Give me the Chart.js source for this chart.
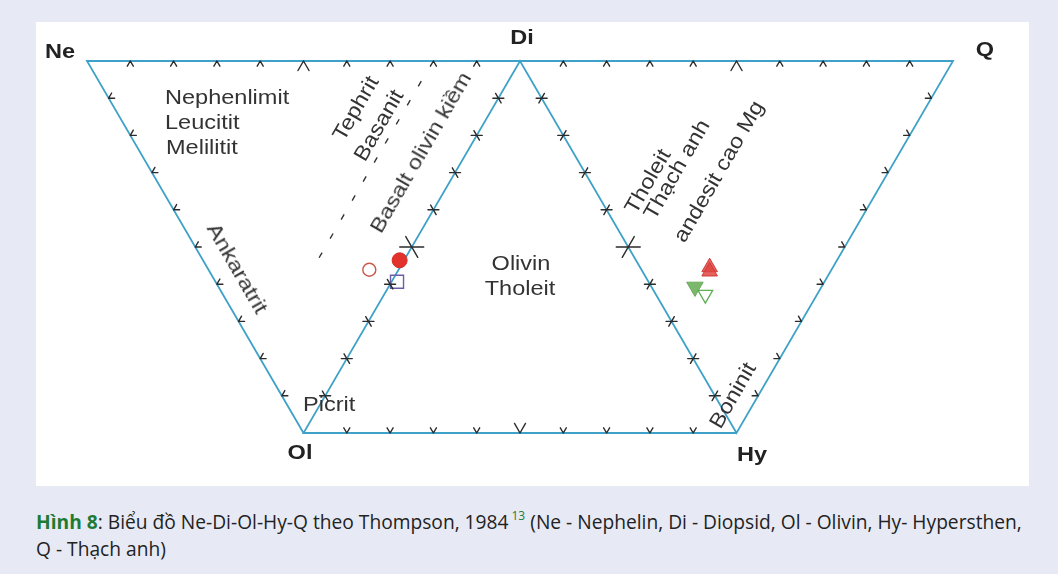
<!DOCTYPE html>
<html>
<head>
<meta charset="utf-8">
<script src="https://cdn.jsdelivr.net/npm/chart.js@4/dist/chart.umd.min.js"></script>
<style>
html,body{margin:0;padding:0;}
body{width:1058px;height:574px;background:#e7eaf5;position:relative;overflow:hidden;font-family:"Liberation Sans",Arial,sans-serif;}
#panel{position:absolute;left:36px;top:22px;width:993px;height:464px;background:#ffffff;}
#chart{position:absolute;left:0;top:0;}
.lbl{position:absolute;white-space:nowrap;line-height:1;color:#333;font-size:21px;}
.v{font-weight:bold;color:#222;}
#cap{position:absolute;left:36px;top:508px;font-family:"Open Sans","Noto Sans",sans-serif;font-size:19.2px;line-height:27px;color:#222;white-space:nowrap;}
#cap b{color:#1e7b34;}
#cap sup{color:#1e7b34;font-size:12px;line-height:0;position:relative;top:-2px;margin-left:3px;}
</style>
</head>
<body>
<div id="panel"><canvas id="chart" width="993" height="464"></canvas></div>
<div id="labels"></div>
<div id="cap"><b>Hình 8</b>: Biểu đồ Ne-Di-Ol-Hy-Q theo Thompson, 1984<sup>13</sup> (Ne - Nephelin, Di - Diopsid, Ol - Olivin, Hy- Hypersthen,<br>Q - Thạch anh)</div>
<script>
// ---- diagram data (diagram units: Ne=0, Di=50, Q=100 along x; base=0, top=43.3) ----
const vertexNames = ['Ne', 'Di', 'Q', 'Ol', 'Hy'];
const vertexX = [0, 50, 100, 25, 75];
const vertexY = [43.3, 43.3, 43.3, 0, 0];
const outlinePath = ['Ol', 'Ne', 'Di', 'Q', 'Hy', 'Di', 'Ol', 'Hy'];

// dashed Tephrit/Basanit boundary
const dividerX = [26.8, 39.2];
const dividerY = [20.4, 42.0];

// sample points
const openCircleX = [32.6];        const openCircleY = [19.0];
const redCircleX = [36.1];         const redCircleY = [20.1];
const openSquareX = [35.8];        const openSquareY = [17.6];
const redTriangleX = [71.9, 71.9]; const redTriangleY = [19.3, 18.8];
const greenTriangleX = [70.2];     const greenTriangleY = [17.0];
const greenOpenTriangleX = [71.4]; const greenOpenTriangleY = [16.1];

// ---- helpers ----
const V = {};
vertexNames.forEach((n, i) => V[n] = {x: vertexX[i], y: vertexY[i]});
const zip = (xs, ys) => xs.map((x, i) => ({x, y: ys[i]}));

const S = Math.sqrt(3) / 2;
// tick styles per edge (pixel-space arm directions)
const edgeTicks = [
  {from: 'Ne', to: 'Di', type: 'chev', arms: [[-0.5, S], [0.5, S]], small: 6, big: 11, bigMid: true},
  {from: 'Di', to: 'Q',  type: 'chev', arms: [[-0.5, S], [0.5, S]], small: 6, big: 11, bigMid: true},
  {from: 'Ol', to: 'Hy', type: 'chev', arms: [[-0.5, -S], [0.5, -S]], small: 6, big: 11, bigMid: true},
  {from: 'Ne', to: 'Ol', type: 'chev', arms: [[1, 0], [0.5, -S]], small: 6, big: 6, bigMid: false},
  {from: 'Hy', to: 'Q',  type: 'chev', arms: [[-1, 0], [-0.5, -S]], small: 6, big: 6, bigMid: false},
  {from: 'Ol', to: 'Di', type: 'cross', arms: [[1, 0], [0.5, S]], small: 5.5, big: 12, bigMid: true},
  {from: 'Di', to: 'Hy', type: 'cross', arms: [[1, 0], [0.5, -S]], small: 5.5, big: 12, bigMid: true}
];

const tickPlugin = {
  id: 'ternaryTicks',
  afterDatasetsDraw(chart) {
    const {ctx} = chart;
    const xs = chart.scales.x, ys = chart.scales.y;
    ctx.save();
    ctx.strokeStyle = '#2b2b2b';
    ctx.lineWidth = 1.4;
    ctx.lineCap = 'round';
    edgeTicks.forEach(e => {
      const a = V[e.from], b = V[e.to];
      for (let i = 1; i < 10; i++) {
        const t = i / 10;
        const px = xs.getPixelForValue(a.x + (b.x - a.x) * t);
        const py = ys.getPixelForValue(a.y + (b.y - a.y) * t);
        const L = (i === 5 && e.bigMid) ? e.big : e.small;
        ctx.beginPath();
        e.arms.forEach(([dx, dy]) => {
          if (e.type === 'cross') {
            ctx.moveTo(px - dx * L, py - dy * L);
            ctx.lineTo(px + dx * L, py + dy * L);
          } else {
            ctx.moveTo(px, py);
            ctx.lineTo(px + dx * L, py + dy * L);
          }
        });
        ctx.stroke();
      }
    });
    ctx.restore();
  }
};

const lineColor = '#3ea2c8';

new Chart(document.getElementById('chart'), {
  type: 'scatter',
  data: {
    datasets: [
      {label: 'Open circle', data: zip(openCircleX, openCircleY), pointStyle: 'circle', pointRadius: 6.5,
       backgroundColor: 'rgba(255,255,255,0)', borderColor: '#c9574a', borderWidth: 1.4, order: 1},
      {label: 'Filled circle', data: zip(redCircleX, redCircleY), pointStyle: 'circle', pointRadius: 7.5,
       backgroundColor: '#e2322c', borderColor: '#d92a25', borderWidth: 1, order: 1},
      {label: 'Open square', data: zip(openSquareX, openSquareY), pointStyle: 'rect', pointRadius: 9.2,
       backgroundColor: 'rgba(255,255,255,0)', borderColor: '#6a5ea8', borderWidth: 1.4, order: 0},
      {label: 'Red triangle', data: zip(redTriangleX, redTriangleY), pointStyle: 'triangle', pointRadius: 9,
       backgroundColor: 'rgba(226,70,66,0.85)', borderColor: '#cf3c38', borderWidth: 1, order: 1},
      {label: 'Green triangle', data: zip(greenTriangleX, greenTriangleY), pointStyle: 'triangle', rotation: 180, pointRadius: 9.5,
       backgroundColor: '#7cb86c', borderColor: '#6aaa5a', borderWidth: 1, order: 1},
      {label: 'Green open triangle', data: zip(greenOpenTriangleX, greenOpenTriangleY), pointStyle: 'triangle', rotation: 180, pointRadius: 8.5,
       backgroundColor: 'rgba(255,255,255,0)', borderColor: '#5fae55', borderWidth: 1.3, order: 0},
      {label: 'Divider', data: zip(dividerX, dividerY), showLine: true, pointRadius: 0, borderColor: '#333',
       borderWidth: 1.4, borderDash: [6, 16], fill: false, order: 5},
      {label: 'Outline', data: outlinePath.map(n => V[n]), showLine: true, pointRadius: 0, borderColor: lineColor,
       borderWidth: 1.8, fill: false, tension: 0, borderJoinStyle: 'miter', order: 6}
    ]
  },
  options: {
    responsive: false,
    animation: false,
    devicePixelRatio: 1,
    layout: {padding: 0, autoPadding: false},
    events: [],
    plugins: {legend: {display: false}, tooltip: {enabled: false}},
    scales: {
      x: {type: 'linear', display: false, min: -5.889, max: 108.776},
      y: {type: 'linear', display: false, min: -6.169, max: 47.839}
    }
  },
  plugins: [tickPlugin]
});

// ---- text labels (page pixel centres) ----
const labels = [
  {t: 'Ne', x: 60, y: 50, cls: 'v'},
  {t: 'Di', x: 522, y: 36, cls: 'v'},
  {t: 'Q', x: 985, y: 48, cls: 'v'},
  {t: 'Ol', x: 300, y: 451, cls: 'v'},
  {t: 'Hy', x: 752, y: 453, cls: 'v'},
  {t: 'Nephenlimit', x: 165, y: 96, align: 'left'},
  {t: 'Leucitit', x: 165, y: 121, align: 'left'},
  {t: 'Melilitit', x: 166, y: 146, align: 'left'},
  {t: 'Ankaratrit', x: 238, y: 268, rot: 60},
  {t: 'Tephrit', x: 355, y: 108, rot: -60},
  {t: 'Basanit', x: 378, y: 125, rot: -60},
  {t: 'Basalt olivin kiềm', x: 420, y: 152, rot: -60},
  {t: 'Olivin', x: 521, y: 262},
  {t: 'Tholeit', x: 520, y: 287},
  {t: 'Tholeit', x: 647, y: 181, rot: -60},
  {t: 'Thạch anh', x: 676, y: 169, rot: -60},
  {t: 'andesit cao Mg', x: 718, y: 171, rot: -60},
  {t: 'Picrit', x: 303, y: 403, align: 'left'},
  {t: 'Boninit', x: 732, y: 395, rot: -60}
];
const box = document.getElementById('labels');
labels.forEach(l => {
  const d = document.createElement('div');
  d.className = 'lbl' + (l.cls ? ' ' + l.cls : '');
  d.textContent = l.t;
  d.style.left = l.x + 'px';
  d.style.top = l.y + 'px';
  if (l.align === 'left') {
    d.style.transformOrigin = '0 50%';
    d.style.transform = 'translateY(-50%) scaleX(1.12)';
  } else {
    d.style.transform = 'translate(-50%,-50%) rotate(' + (l.rot || 0) + 'deg) scaleX(1.12)';
  }
  box.appendChild(d);
});
</script>
</body>
</html>
